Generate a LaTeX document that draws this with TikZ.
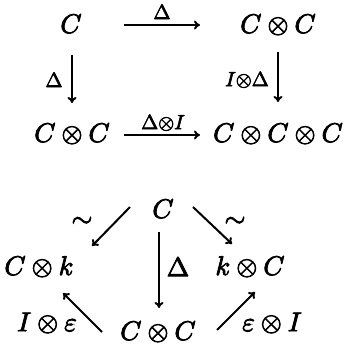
\documentclass[tikz,border=0pt]{standalone}
\usepackage{graphicx}
\usetikzlibrary{arrows.meta}
\newcommand{\HeavyOn}{\special{pdf:literal direct 2 Tr 0.3 w}}
\newcommand{\HeavyOff}{\special{pdf:literal direct 0 Tr}}
\newcommand{\MyBig}[1]{\scalebox{2.7}{\HeavyOn$#1$\HeavyOff}}
\newcommand{\MySmall}[1]{\scalebox{2.05}{\HeavyOn$#1$\HeavyOff}}
\begin{document}
\begin{tikzpicture}[x=1pt,y=-1pt,
  obj/.style={anchor=base,inner sep=0pt},
  lab/.style={inner sep=0pt},
  arr/.style={line width=2pt,-{To[length=6pt,width=9pt,line width=2pt]}}]
\useasboundingbox (0,0) rectangle (344,347);
% top square
\node[obj] (a) at (71,33) {\MyBig{C}};
\node[obj] (b) at (278,33) {\MyBig{C\otimes C}};
\node[obj] (c) at (72,142) {\MyBig{C\otimes C}};
\node[obj] (d) at (278,142) {\MyBig{C\otimes C\otimes C}};
\draw[arr] ([shift={(53,-8)}]a.base) -- ([shift={(-78,-8)}]b.base);
\node[lab] (l1) at (162,12) {\MySmall{\Delta}};
\draw[arr] ([shift={(1,22)}]a.base) -- ([shift={(0,-39)}]c.base);
\node[lab] (l2) at (54,80) {\MySmall{\Delta}};
\draw[arr] ([shift={(0,19)}]b.base) -- ([shift={(0,-40)}]d.base);
\node[lab] (l3) at (247,80) {\MySmall{I{\otimes}\Delta}};
\draw[arr] ([shift={(52,-7)}]c.base) -- ([shift={(-78,-7)}]d.base);
\node[lab] (l4) at (163,123) {\MySmall{\Delta{\otimes}I}};
% bottom triangle
\node[obj] (e) at (163,218) {\MyBig{C}};
\node[obj] (f) at (39,275) {\MyBig{C\otimes k}};
\node[obj] (g) at (250,275) {\MyBig{k\otimes C}};
\node[obj] (h) at (158,340) {\MyBig{C\otimes C}};
\draw[arr] ([shift={(-33,-11)}]e.base) -- ([shift={(53,-29)}]f.base);
\node[lab] (l5) at (82,222) {\MyBig{\sim}};
\draw[arr] ([shift={(30,-11)}]e.base) -- ([shift={(-18,-31)}]g.base);
\node[lab] (l6) at (235,222) {\MyBig{\sim}};
\draw[arr] ([shift={(-4,14)}]e.base) -- ([shift={(1,-32)}]h.base);
\node[lab] (l7) at (178,267) {\MyBig{\Delta}};
\draw[arr] ([shift={(-56,-8)}]h.base) -- ([shift={(24,18)}]f.base);
\node[lab] (l8) at (47,323) {\MyBig{I\otimes\varepsilon}};
\draw[arr] ([shift={(59,-10)}]h.base) -- ([shift={(5,17)}]g.base);
\node[lab] (l9) at (272,323) {\MyBig{\varepsilon\otimes I}};
\end{tikzpicture}
\end{document}
